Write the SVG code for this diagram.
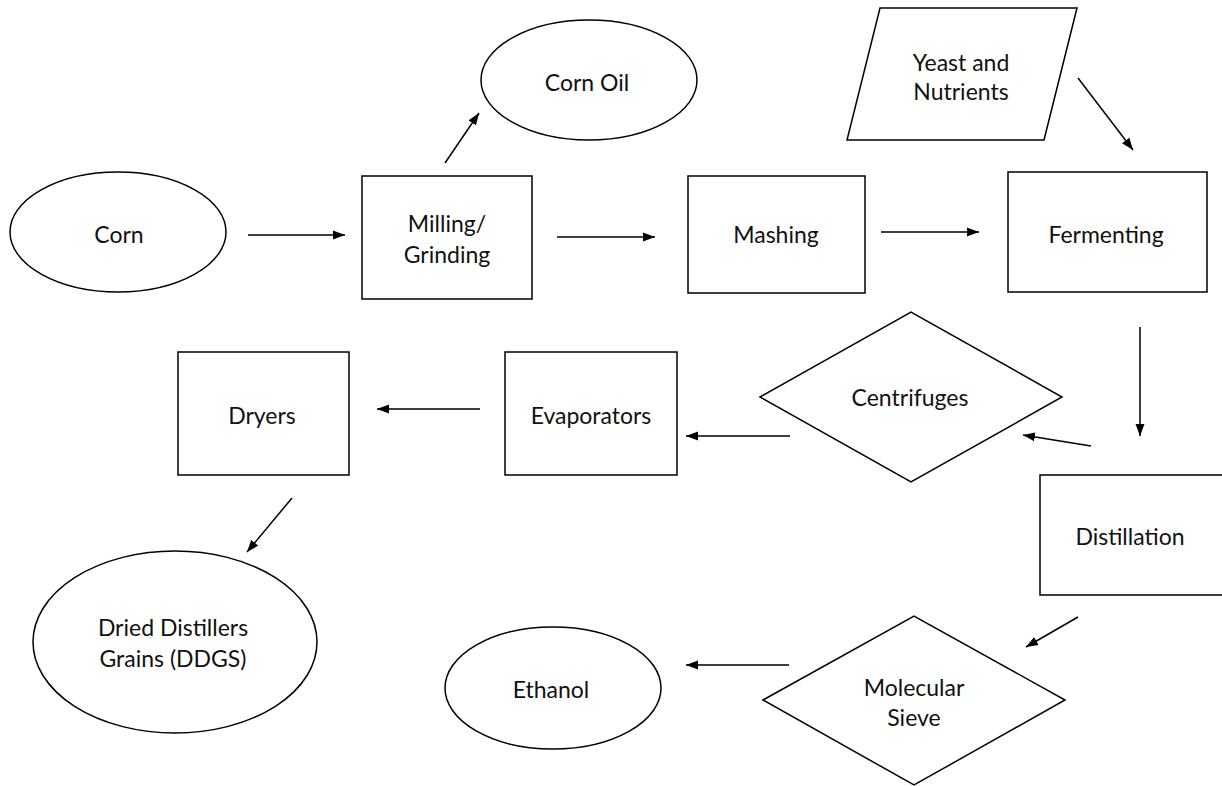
<svg xmlns="http://www.w3.org/2000/svg" width="1222" height="786" viewBox="0 0 1222 786">
<style>
.s{fill:#fff;stroke:#000;stroke-width:1.5}
.t{font-family:Lato,"Open Sans","Liberation Sans",sans-serif;font-size:23px;fill:#111;text-anchor:middle;dominant-baseline:central}
.c{stroke:#000;stroke-width:1.5;fill:none;marker-end:url(#ah)}
</style>
<defs>
<marker id="ah" viewBox="0 0 12 10" refX="12" refY="5" markerWidth="12" markerHeight="10" markerUnits="userSpaceOnUse" orient="auto">
<path d="M0,0.5 L12,5 L0,9.5 z" fill="#000"/>
</marker>
</defs>
<rect width="1222" height="786" fill="#fff"/>
<g id="corn"><ellipse class="s" cx="118" cy="232" rx="108" ry="60"/><text class="t" x="119" y="234">Corn</text></g>
<g id="milling"><rect class="s" x="362" y="176" width="170" height="123"/><text class="t" x="447" y="223">Milling/</text><text class="t" x="447" y="254">Grinding</text></g>
<g id="cornoil"><ellipse class="s" cx="589" cy="80" rx="108" ry="60"/><text class="t" x="587" y="82">Corn Oil</text></g>
<g id="mashing"><rect class="s" x="688" y="176" width="177" height="117"/><text class="t" x="776" y="234">Mashing</text></g>
<g id="yeast"><polygon class="s" points="880,8 1077,8 1044,140 847,140"/><text class="t" x="961" y="62">Yeast and</text><text class="t" x="961" y="91">Nutrients</text></g>
<g id="fermenting"><rect class="s" x="1008" y="172" width="199" height="120"/><text class="t" x="1106" y="234">Fermenting</text></g>
<g id="distillation"><rect class="s" x="1040" y="475" width="190" height="120"/><text class="t" x="1130" y="536">Distillation</text></g>
<g id="centrifuges"><polygon class="s" points="760,397 911,312 1062,397 911,482"/><text class="t" x="910" y="397">Centrifuges</text></g>
<g id="evaporators"><rect class="s" x="505" y="352" width="172" height="123"/><text class="t" x="591" y="415">Evaporators</text></g>
<g id="dryers"><rect class="s" x="178" y="352" width="171" height="123"/><text class="t" x="262" y="415">Dryers</text></g>
<g id="ddgs"><ellipse class="s" cx="175" cy="642" rx="142" ry="91"/><text class="t" x="173" y="627">Dried Distillers</text><text class="t" x="173" y="658">Grains (DDGS)</text></g>
<g id="sieve"><polygon class="s" points="763,700 914,616 1065,700 914,785"/><text class="t" x="914" y="687">Molecular</text><text class="t" x="914" y="717">Sieve</text></g>
<g id="ethanol"><ellipse class="s" cx="553" cy="688" rx="108" ry="61"/><text class="t" x="551" y="689">Ethanol</text></g>
<g id="connectors">
<line class="c" x1="248" y1="235" x2="345" y2="235"/>
<line class="c" x1="445" y1="163" x2="479" y2="113"/>
<line class="c" x1="557" y1="237" x2="655" y2="237"/>
<line class="c" x1="881" y1="232" x2="979" y2="232"/>
<line class="c" x1="1078" y1="78" x2="1133" y2="150"/>
<line class="c" x1="1140" y1="327" x2="1140" y2="436"/>
<line class="c" x1="1091" y1="446" x2="1023" y2="435"/>
<line class="c" x1="790" y1="436" x2="686" y2="436"/>
<line class="c" x1="480" y1="409" x2="377" y2="409"/>
<line class="c" x1="292" y1="498" x2="247" y2="552"/>
<line class="c" x1="1078" y1="617" x2="1026" y2="647"/>
<line class="c" x1="789" y1="665" x2="686" y2="665"/>
</g>
</svg>
